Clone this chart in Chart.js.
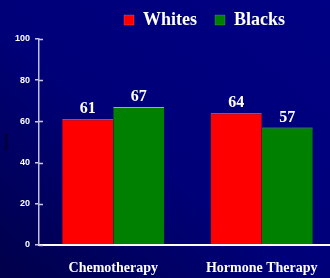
<!DOCTYPE html>
<html><head><meta charset="utf-8">
<script src="https://cdn.jsdelivr.net/npm/chart.js@4/dist/chart.umd.min.js"></script>
<style>
html,body{margin:0;padding:0;}
#wrap{width:330px;height:278px;position:relative;overflow:hidden;background:linear-gradient(to top right,#00004a 0%,#000078 45%,#000084 100%);}
</style></head><body>
<div id="wrap"><canvas id="c" width="336" height="278"></canvas></div>
<script>
const categories = ["Chemotherapy", "Hormone Therapy"];
const whites = [61, 64];
const blacks = [67, 57];
const yTicks = [0, 20, 40, 60, 80, 100];
const seriesNames = ["Whites", "Blacks"];

const serif = '"Liberation Serif","Times New Roman",serif';

const valueLabels = {
  id: 'valueLabels',
  afterDatasetsDraw(chart) {
    const ctx = chart.ctx;
    ctx.save();
    ctx.fillStyle = '#ffffff';
    ctx.font = 'bold 16px ' + serif;
    ctx.textAlign = 'center';
    ctx.textBaseline = 'bottom';
    chart.data.datasets.forEach((ds, i) => {
      chart.getDatasetMeta(i).data.forEach((bar, j) => {
        ctx.fillText(String(ds.data[j]), bar.x, bar.y - 2);
      });
    });
    ctx.restore();
  }
};

const innerTicks = {
  id: 'innerTicks',
  afterDraw(chart) {
    const y = chart.scales.y;
    const ctx = chart.ctx;
    ctx.save();
    ctx.strokeStyle = '#c8c8e0';
    ctx.lineWidth = 1.5;
    y.ticks.forEach(t => {
      const py = Math.round(y.getPixelForValue(t.value)) + 0.5;
      ctx.beginPath();
      ctx.moveTo(y.right, py);
      ctx.lineTo(y.right + 4, py);
      ctx.stroke();
    });
    ctx.restore();
  }
};

const legendShift = {
  id: 'legendShift',
  afterLayout(chart) {
    chart.legend.right = 303;
  }
};

new Chart(document.getElementById('c'), {
  type: 'bar',
  data: {
    labels: categories,
    datasets: [
      { label: seriesNames[0], data: whites, backgroundColor: '#ff0000', borderColor: '#ff9090', borderWidth: {top:1}, borderSkipped: false, categoryPercentage: 0.687, barPercentage: 1.0 },
      { label: seriesNames[1], data: blacks, backgroundColor: '#008000', borderColor: '#80c080', borderWidth: {top:1}, borderSkipped: false, categoryPercentage: 0.687, barPercentage: 1.0 }
    ]
  },
  options: {
    responsive: false,
    animation: false,
    devicePixelRatio: 1,
    layout: { padding: { left: 0, right: 0, top: -7, bottom: 0 } },
    plugins: {
      legend: {
        position: 'top',
        align: 'end',
        labels: {
          color: '#ffffff',
          font: { family: serif, weight: 'bold', size: 18 },
          boxWidth: 10, boxHeight: 10,
          padding: 18
        }
      },
      tooltip: { enabled: false }
    },
    scales: {
      x: {
        afterFit(scale) { scale.height = 33; },
        grid: { display: false, drawOnChartArea: false, drawTicks: false },
        border: { display: true, color: '#ffffff', width: 2 },
        ticks: { color: '#ffffff', font: { family: serif, weight: 'bold', size: 14 }, padding: 15 }
      },
      y: {
        min: 0, max: 100,
        afterBuildTicks(scale) { scale.ticks = yTicks.map(v => ({ value: v })); },
        afterFit(scale) { scale.width = 39; },
        grid: { drawOnChartArea: false, drawTicks: true, tickLength: 4, color: '#c8c8e0', lineWidth: 1.5 },
        border: { display: true, color: '#c0c0dc', width: 1.5 },
        title: { display: true, text: 'Percent', color: '#000000', font: { size: 5, family: 'Liberation Sans' }, padding: { top: 4, bottom: 0 } },
        ticks: { color: '#ffffff', font: { family: '"Liberation Sans",Arial,sans-serif', weight: 'bold', size: 9 }, padding: 5 }
      }
    }
  },
  plugins: [valueLabels, innerTicks, legendShift]
});
</script>
</body></html>
